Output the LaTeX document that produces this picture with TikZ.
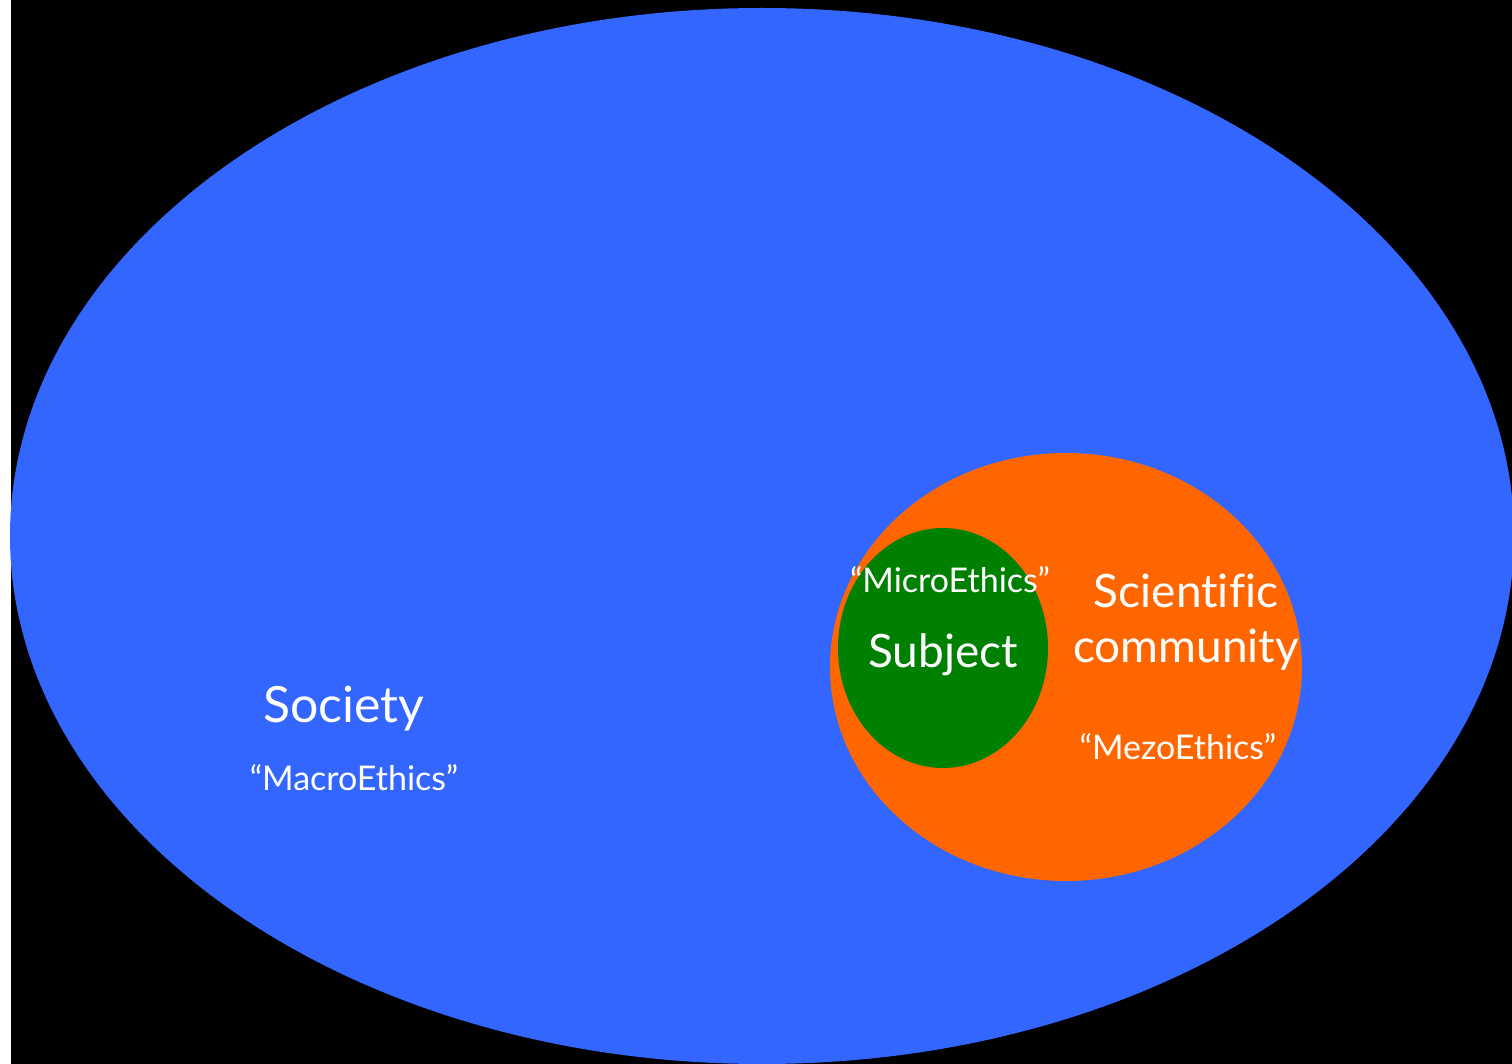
\documentclass[tikz,border=0pt]{standalone}
\usepackage{fontspec}
\setmainfont{Lato}[Ligatures=CommonOff]
\usetikzlibrary{shapes.geometric}
\definecolor{societyblue}{HTML}{3366FF}
\definecolor{communityorange}{HTML}{FF6600}
\definecolor{subjectgreen}{HTML}{008000}

\begin{document}
\begin{tikzpicture}[x=0.5pt, y=-0.5pt, zone/.style={ellipse, fill=#1, inner sep=0pt}, big label/.style={text=white, inner sep=0pt, anchor=base, font=\fontsize{23}{27}\selectfont}, small label/.style={text=white, inner sep=0pt, anchor=base, font=\fontsize{17}{20}\selectfont}]
  \useasboundingbox (0,0) rectangle (1512,1064);
  \clip (0,0) rectangle (1512,1064);
  \fill[white] (0,0) rectangle (11,1064);
  \fill[black] (11,0) rectangle (1512,1064);
  \node[zone=societyblue, minimum width=752pt, minimum height=528pt] (society) at (762,536) {};
  \node[zone=communityorange, minimum width=236pt, minimum height=214pt] (community) at (1066,667) {};
  \node[zone=subjectgreen, minimum width=105pt, minimum height=120pt] (subject) at (943,648) {};
  \node[big label, font=\fontsize{25}{29}\selectfont] (society label) at (344,722) {Society};
  \node[small label] (macro label) at (354,790) {“MacroEthics”};
  \node[big label] (subject label) at (943,667) {Subject};
  \node[small label] (micro label) at (950,592) {“MicroEthics”};
  \node[big label] (scientific label) at (1186,607) {Scientific};
  \node[big label] (community label) at (1186,662) {community};
  \node[small label] (mezo label) at (1178,759) {“MezoEthics”};
\end{tikzpicture}
\end{document}
